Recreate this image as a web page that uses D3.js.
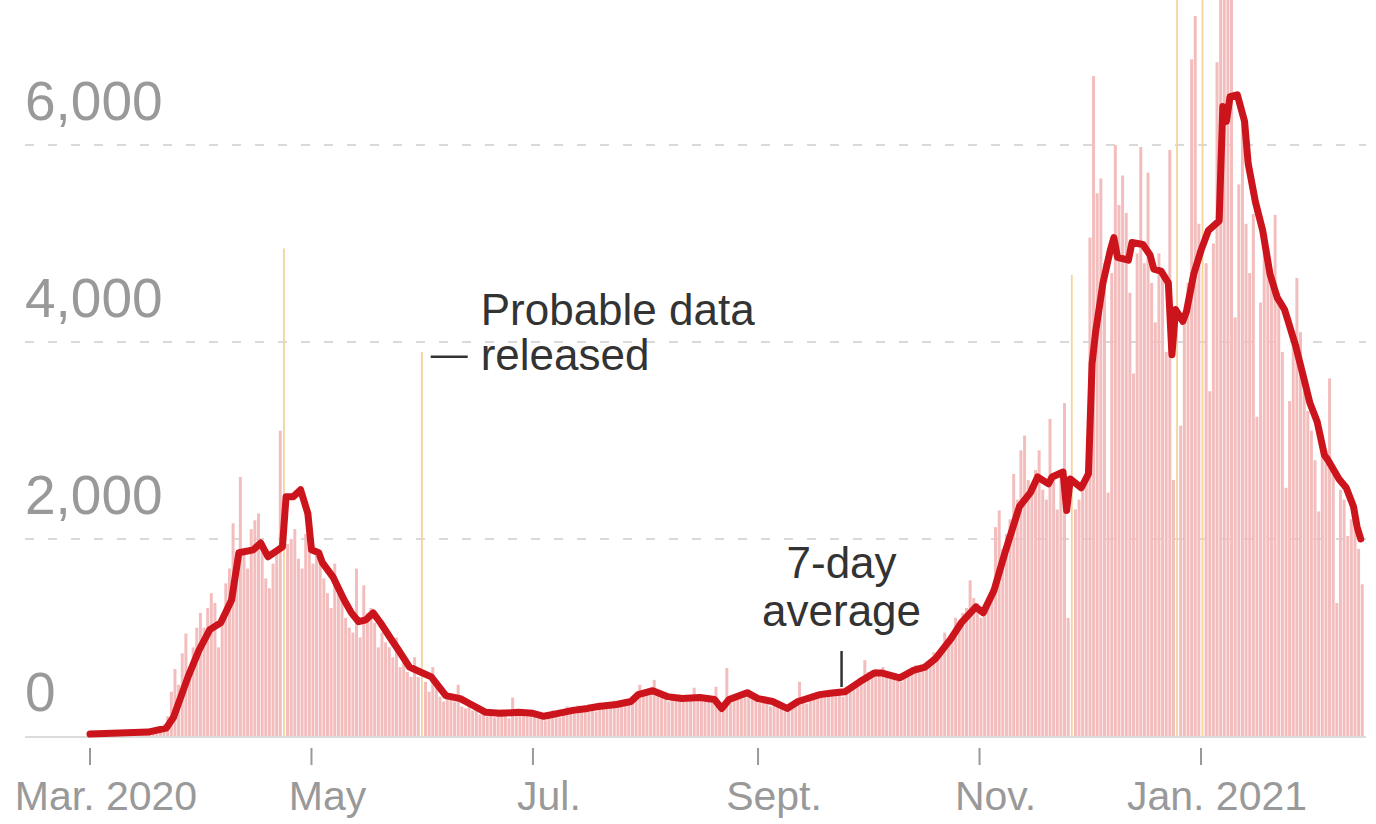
<!DOCTYPE html>
<html>
<head>
<meta charset="utf-8">
<script src="https://cdn.jsdelivr.net/npm/d3@7"></script>
<style>
  html, body { margin: 0; padding: 0; background: #fff; }
  svg { display: block; font-family: "Liberation Sans", Arial, sans-serif; }
</style>
</head>
<body>
<svg id="chart" width="1376" height="824"></svg>
<script>
// daily new cases, one value per day starting 2020-03-01
const START = "2020-03-01";
const dailyCases = [
  0, 0, 1, 0, 1, 1, 2, 5, 8, 10,
  12, 15, 18, 20, 25, 30, 35, 45, 55, 70,
  120, 200, 450, 680, 520, 840, 1040, 700, 900, 1100,
  1250, 1100, 1300, 1450, 1350, 900, 1200, 1550, 1700, 2160,
  1800, 2630, 1900, 1700, 2100, 2190, 2260, 1900, 1600, 1500,
  1750, 1900, 3100, 4950, 1950, 2000, 2100, 1800, 1700, 2050,
  1900, 1750, 1850, 1800, 1600, 1450, 1300, 1750, 1550, 1400,
  1200, 1100, 1050, 1700, 1000, 1530, 1250, 1300, 1150, 900,
  1050, 950, 900, 800, 1000, 700, 750, 650, 600, 800,
  600, 3900, 550, 450, 700, 500, 400, 350, 450, 380,
  350, 520, 300, 280, 330, 260, 300, 220, 250, 200,
  230, 190, 250, 270, 210, 180, 390, 240, 210, 260,
  200, 250, 230, 180, 210, 160, 220, 260, 240, 190,
  270, 300, 250, 230, 310, 280, 260, 320, 290, 250,
  340, 300, 280, 330, 360, 310, 300, 350, 370, 330,
  380, 520, 450, 430, 480, 570, 420, 440, 380, 350,
  400, 360, 420, 350, 380, 390, 490, 380, 360, 410,
  380, 340, 500, 300, 250, 690, 380, 400, 420, 380,
  450, 470, 400, 360, 340, 380, 330, 300, 360, 320,
  290, 250, 300, 310, 360, 550, 380, 330, 400, 420,
  430, 390, 460, 470, 420, 450, 480, 400, 470, 500,
  520, 560, 600, 770, 650, 620, 680, 640, 700, 610,
  580, 620, 560, 550, 650, 680, 700, 720, 650, 690,
  720, 760, 850, 820, 900, 1050, 980, 1000, 1200, 1150,
  1250, 1300, 1580, 1400, 1350, 1200, 1250, 1400, 1500, 2120,
  2290, 1900, 2050, 2200, 2660, 2400, 2900, 3050, 2600, 2500,
  2700, 2900, 2500, 2400, 3220, 2600, 2300, 2700, 3380, 1200,
  4680, 2300, 2400, 2500, 2600, 5060, 6700, 5510, 5660, 4800,
  2470, 4700, 6000, 5390, 5690, 5310, 4500, 3680, 4900, 5980,
  4800, 5720, 4600, 4200, 4900, 4700, 3900, 5950, 2600, 8200,
  3150, 4300, 4600, 6870, 7310, 5200, 8500, 4800, 3500, 5000,
  6840, 7800, 12600, 7600, 8000, 4250, 5600, 6300, 5200, 4700,
  5300, 3240, 4400, 5000, 4800, 4600, 5290, 4500, 3900, 2520,
  3400, 4000, 4650, 4100, 3500, 3300, 3100, 2800, 2280, 3000,
  2900, 3630, 2700, 1350, 2500, 2400, 2030, 2200, 2100, 1900, 1540
];

// days when probable cases were added in bulk
const probableDates = ["2020-04-23", "2020-05-31", "2020-11-26", "2020-12-25", "2021-01-01"];

// 7-day average (day = days since START)
const avgDay = [
  0, 16, 21, 23, 27, 30, 33, 36, 39, 41, 45, 47, 49, 51, 53, 54, 56, 58, 60, 61,
  63, 64, 67, 70, 72, 74, 76, 78, 80, 83, 85, 88, 91, 94, 98, 102, 105, 109, 113, 118,
  122, 125, 129, 133, 137, 140, 145, 149, 151, 155, 159, 163, 168, 172, 174, 176, 181, 184, 188, 192,
  195, 201, 205, 208, 212, 216, 218, 223, 227, 230, 233, 237, 240, 244, 246, 249, 252, 256, 259, 261,
  264, 265, 268, 269, 270, 273, 275, 276, 277, 279, 281, 282, 283, 286, 287, 290, 292, 293, 295, 297,
  298, 299, 301, 302, 304, 306, 308, 311, 312, 313, 314, 316, 318, 319, 321, 323, 325, 327, 329, 330,
  332, 334, 336, 338, 340, 341, 344, 346, 348, 349, 350
];
const avgValue = [
  20, 40, 80, 190, 600, 870, 1080, 1150, 1380, 1860, 1890, 1960, 1820, 1870, 1920, 2430, 2430, 2500, 2260, 1890,
  1860, 1760, 1610, 1380, 1250, 1160, 1180, 1250, 1150, 980, 870, 700, 650, 600, 410, 380, 320, 240, 230, 240,
  230, 200, 230, 260, 280, 300, 320, 350, 420, 460, 400, 380, 390, 370, 280, 370, 440, 380, 350, 280,
  350, 420, 440, 450, 550, 640, 640, 590, 670, 700, 790, 980, 1150, 1310, 1250, 1480, 1860, 2330, 2470, 2630,
  2560, 2630, 2680, 2290, 2610, 2520, 2660, 3780, 4110, 4600, 4930, 5060, 4860, 4830, 5010, 4990, 4880, 4740, 4720, 4600,
  3870, 4330, 4210, 4310, 4690, 4930, 5130, 5230, 6390, 6240, 6490, 6510, 6240, 5810, 5420, 5130, 4690, 4450, 4330, 4210,
  3970, 3680, 3380, 3190, 2850, 2800, 2610, 2520, 2330, 2120, 2000
];

const yTicks = [0, 2000, 4000, 6000];
const xTickDates = ["2020-03-01", "2020-05-01", "2020-07-01", "2020-09-01", "2020-11-01", "2021-01-01"];
const xTickLabels = ["Mar. 2020", "May", "Jul.", "Sept.", "Nov.", "Jan. 2021"];

const parse = d3.utcParse("%Y-%m-%d");
const start = parse(START);
const dayDate = (i) => d3.utcDay.offset(start, i);
const probableSet = new Set(probableDates);
const fmtDay = d3.utcFormat("%Y-%m-%d");

const bars = dailyCases.map((v, i) => {
  const date = dayDate(i);
  return { date, value: v, probable: probableSet.has(fmtDay(date)) };
});
const avg = avgDay.map((d, i) => ({ date: dayDate(d), value: avgValue[i] }));

const svg = d3.select("#chart");
const left = 25, right = 1366;

const x = d3.scaleUtc()
  .domain([parse("2020-03-01"), parse("2021-01-01")])
  .range([90, 1201]);
const y = d3.scaleLinear().domain([0, 6000]).range([736, 145]);
const step = x(dayDate(1)) - x(dayDate(0));

// gridlines
svg.append("g")
  .selectAll("line")
  .data(yTicks.filter((t) => t > 0))
  .join("line")
  .attr("x1", left)
  .attr("x2", right)
  .attr("y1", (d) => y(d))
  .attr("y2", (d) => y(d))
  .attr("stroke", "#d9d9d9")
  .attr("stroke-width", 2)
  .attr("stroke-dasharray", "9,14");

// daily bars
svg.append("g")
  .selectAll("rect")
  .data(bars.filter((d) => !d.probable && d.value > 0))
  .join("rect")
  .attr("x", (d) => x(d.date))
  .attr("width", step * 0.82)
  .attr("y", (d) => y(d.value))
  .attr("height", (d) => y(0) - y(d.value))
  .attr("fill", "#f4bdbd");

// probable-data bars
svg.append("g")
  .selectAll("rect")
  .data(bars.filter((d) => d.probable))
  .join("rect")
  .attr("x", (d) => x(d.date) + 0.6)
  .attr("width", 1.8)
  .attr("y", (d) => y(d.value))
  .attr("height", (d) => y(0) - y(d.value))
  .attr("fill", "#f5d49c");

// baseline
svg.append("line")
  .attr("x1", left)
  .attr("x2", right)
  .attr("y1", y(0) + 1)
  .attr("y2", y(0) + 1)
  .attr("stroke", "#dcdcdc")
  .attr("stroke-width", 2);

// 7-day average line
const line = d3.line()
  .x((d) => x(d.date))
  .y((d) => y(d.value));
svg.append("path")
  .datum(avg)
  .attr("d", line)
  .attr("fill", "none")
  .attr("stroke", "#cc141c")
  .attr("stroke-width", 7)
  .attr("stroke-linejoin", "round")
  .attr("stroke-linecap", "round");

// y labels
svg.append("g")
  .selectAll("text")
  .data(yTicks)
  .join("text")
  .attr("x", left)
  .attr("y", (d) => y(d) - 25)
  .attr("fill", "#999")
  .attr("font-size", 55)
  .text((d) => d3.format(",")(d));

// x ticks + labels
const xg = svg.append("g");
xg.selectAll("line")
  .data(xTickDates)
  .join("line")
  .attr("x1", (d) => x(parse(d)))
  .attr("x2", (d) => x(parse(d)))
  .attr("y1", 748)
  .attr("y2", 765)
  .attr("stroke", "#999")
  .attr("stroke-width", 2);
xg.selectAll("text")
  .data(xTickDates)
  .join("text")
  .attr("x", (d) => x(parse(d)) + 16)
  .attr("y", 810)
  .attr("text-anchor", "middle")
  .attr("fill", "#999")
  .attr("font-size", 41)
  .text((d, i) => xTickLabels[i]);

// annotation: probable data released
const pDate = parse("2020-05-31");
const pVal = bars.find((d) => +d.date === +pDate).value;
const ax = x(pDate) + step * 0.36;
svg.append("line")
  .attr("x1", ax + 9)
  .attr("x2", ax + 46)
  .attr("y1", y(pVal) + 5)
  .attr("y2", y(pVal) + 5)
  .attr("stroke", "#333")
  .attr("stroke-width", 2.5);
const pt = svg.append("text")
  .attr("x", ax + 59)
  .attr("y", y(pVal) - 27)
  .attr("fill", "#333")
  .attr("font-size", 44);
pt.append("tspan").text("Probable data");
pt.append("tspan").attr("x", ax + 59).attr("dy", 45).text("released");

// annotation: 7-day average
const aDay = 207;
const aDate = dayDate(aDay);
const aX = x(aDate);
const aY = y(d3.scaleLinear().domain(avgDay).range(avgValue)(aDay));
svg.append("line")
  .attr("x1", aX)
  .attr("x2", aX)
  .attr("y1", aY - 5)
  .attr("y2", aY - 41)
  .attr("stroke", "#333")
  .attr("stroke-width", 2.5);
const at = svg.append("text")
  .attr("x", aX)
  .attr("y", aY - 114)
  .attr("text-anchor", "middle")
  .attr("fill", "#333")
  .attr("font-size", 44);
at.append("tspan").text("7-day");
at.append("tspan").attr("x", aX).attr("dy", 48).text("average");
</script>
</body>
</html>
